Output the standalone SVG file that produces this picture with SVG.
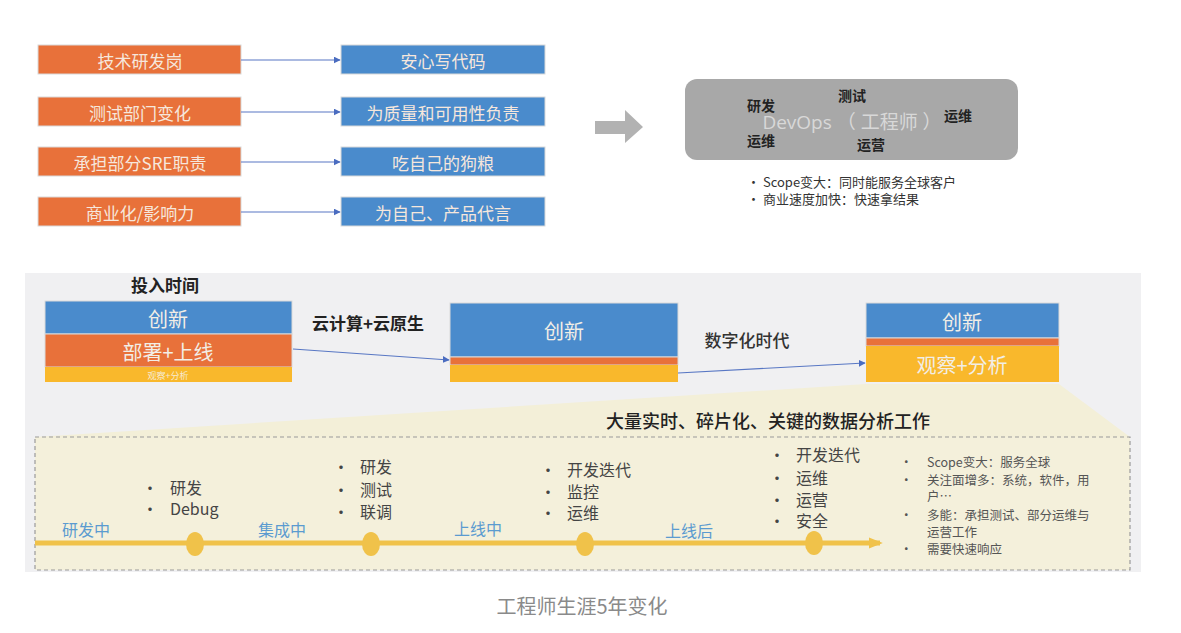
<svg xmlns="http://www.w3.org/2000/svg" width="1181" height="633" viewBox="0 0 1181 633">
<defs>
<style>
text{font-family:"Noto Sans CJK SC","Noto Sans",sans-serif;}
.org{fill:#e8713a;stroke:#d9d9d9;stroke-width:1}
.blu{fill:#4a8bcc;stroke:#d9d9d9;stroke-width:1}
.yel{fill:#f9b82c}
.bt{fill:#f6e7dc;font-size:17px;text-anchor:middle;dominant-baseline:central}
.bt2{fill:#f2eee6;font-size:20px;text-anchor:middle;dominant-baseline:central}
.lbl{fill:#222;font-size:14px;font-weight:bold}
.sm{fill:#333;font-size:13px}
.mid{fill:#222;font-size:17px;font-weight:bold}
.tl{fill:#444;font-size:16px}
.tls{fill:#555;font-size:12.5px}
.ph{fill:#5b9bd0;font-size:16px}
.dot{fill:#f0c24a}
.conn{stroke:#5877c4;stroke-width:1.2;fill:none;marker-end:url(#ah)}
</style>
<marker id="ah" viewBox="0 0 10 10" refX="9" refY="5" markerWidth="7" markerHeight="7" orient="auto" markerUnits="userSpaceOnUse">
<path d="M0,0 L10,5 L0,10 z" fill="#4a6cc0"/>
</marker>
<marker id="ya" viewBox="0 0 10 10" refX="8" refY="5" markerWidth="14" markerHeight="14" orient="auto" markerUnits="userSpaceOnUse">
<path d="M0,1 L10,5 L0,9 z" fill="#f0c24a"/>
</marker>
</defs>
<rect x="0" y="0" width="1181" height="633" fill="#ffffff"/>
<rect x="25" y="273" width="1116" height="299" fill="#f0f0f2"/>

<!-- cream trapezoid and dashed area -->
<path d="M35,437 L866,384 L1059,384 L1130,437 L1130,570 L35,570 Z" fill="#f3efd8"/>
<rect x="35" y="437" width="1095" height="133" fill="#f4f0db" stroke="#9a9a9a" stroke-width="1.2" stroke-dasharray="4,3"/>

<!-- top-left rows -->
<g id="r1l"><rect class="org" x="38" y="45" width="203" height="29"/><text class="bt" x="140" y="60">技术研发岗</text></g>
<g id="r1r"><rect class="blu" x="341" y="45" width="204" height="29"/><text class="bt" x="443" y="60">安心写代码</text></g>
<g id="r2l"><rect class="org" x="38" y="97" width="203" height="29"/><text class="bt" x="140" y="112">测试部门变化</text></g>
<g id="r2r"><rect class="blu" x="341" y="97" width="204" height="29"/><text class="bt" x="443" y="112">为质量和可用性负责</text></g>
<g id="r3l"><rect class="org" x="38" y="147" width="203" height="29"/><text class="bt" x="140" y="162">承担部分SRE职责</text></g>
<g id="r3r"><rect class="blu" x="341" y="147" width="204" height="29"/><text class="bt" x="443" y="162">吃自己的狗粮</text></g>
<g id="r4l"><rect class="org" x="38" y="197" width="203" height="29"/><text class="bt" x="140" y="212">商业化/影响力</text></g>
<g id="r4r"><rect class="blu" x="341" y="197" width="204" height="29"/><text class="bt" x="443" y="212">为自己、产品代言</text></g>

<!-- big gray arrow -->
<g id="bigarrow"><path d="M595,121 L625,121 L625,110 L643,127 L625,143 L625,134 L595,134 Z" fill="#b2b2b2"/></g>

<!-- DevOps box -->
<g id="devops">
<rect x="685" y="79" width="333" height="81" rx="12" fill="#a8a8a8"/>
<text x="852" y="122" fill="#d8d8d8" font-size="19" text-anchor="middle" dominant-baseline="central" style="font-family:'Open Sans','Noto Sans CJK SC',sans-serif">DevOps （ 工程师 ）</text>
<text class="lbl" x="747" y="111">研发</text>
<text class="lbl" x="838" y="101">测试</text>
<text class="lbl" x="944" y="121">运维</text>
<text class="lbl" x="747" y="146">运维</text>
<text class="lbl" x="857" y="150">运营</text>
</g>
<g id="devops-notes">
<text class="sm" x="747" y="187">•  Scope变大：同时能服务全球客户</text>
<text class="sm" x="747" y="204">•  商业速度加快：快速拿结果</text>
</g>

<!-- middle stacks -->
<text class="mid" x="165" y="292" text-anchor="middle">投入时间</text>
<g id="stack1">
<rect class="blu" x="45" y="301" width="247" height="33" stroke="none"/>
<rect class="org" x="45" y="334" width="247" height="33" stroke="none"/>
<rect class="yel" x="45" y="367" width="247" height="15"/>
<text class="bt2" x="168" y="318">创新</text>
<text class="bt2" x="168" y="351" font-size="21">部署+上线</text>
<text x="168" y="375" fill="#f6ead0" font-size="9" text-anchor="middle" dominant-baseline="central">观察+分析</text>
</g>
<text class="mid" x="368" y="330" text-anchor="middle" style="font-weight:600">云计算+云原生</text>
<g id="stack2">
<rect class="blu" x="450" y="303" width="228" height="54" stroke="none"/>
<rect class="org" x="450" y="357" width="228" height="8" stroke="none"/>
<rect class="yel" x="450" y="365" width="228" height="17"/>
<text class="bt2" x="564" y="330">创新</text>
</g>
<text x="747" y="347" text-anchor="middle" fill="#333" font-size="17" style="font-weight:500">数字化时代</text>
<g id="stack3">
<rect class="blu" x="866" y="303" width="193" height="35" stroke="none"/>
<rect class="org" x="866" y="338" width="193" height="8" stroke="none"/>
<rect class="yel" x="866" y="346" width="193" height="36"/>
<text class="bt2" x="962" y="321">创新</text>
<text class="bt2" x="962" y="364">观察+分析</text>
</g>

<g id="connectors">
<line class="conn" x1="241" y1="60" x2="340" y2="60"/>
<line class="conn" x1="241" y1="112" x2="340" y2="112"/>
<line class="conn" x1="241" y1="162" x2="340" y2="162"/>
<line class="conn" x1="241" y1="212" x2="340" y2="212"/>
<line class="conn" x1="293" y1="349" x2="449" y2="360"/>
<line class="conn" x1="678" y1="373" x2="865" y2="363"/>
</g>

<!-- bottom timeline -->
<text x="768" y="428" fill="#222" font-size="18" text-anchor="middle" style="font-weight:500">大量实时、碎片化、关键的数据分析工作</text>
<g id="timeline">
<line x1="35" y1="543" x2="880" y2="543" stroke="#f0c24a" stroke-width="5" marker-end="url(#ya)"/>
<ellipse class="dot" cx="195" cy="544" rx="9" ry="12"/>
<ellipse class="dot" cx="371" cy="544" rx="9" ry="12"/>
<ellipse class="dot" cx="585" cy="544" rx="9" ry="12"/>
<ellipse class="dot" cx="814" cy="543" rx="9" ry="12"/>
</g>
<g id="phases">
<text class="ph" x="62" y="536">研发中</text>
<text class="ph" x="258" y="536">集成中</text>
<text class="ph" x="454" y="535">上线中</text>
<text class="ph" x="665" y="537">上线后</text>
</g>
<g id="stage1">
<text class="tl" x="142" y="494">•</text><text class="tl" x="170" y="494">研发</text>
<text class="tl" x="142" y="515">•</text><text class="tl" x="170" y="515">Debug</text>
</g>
<g id="stage2">
<text class="tl" x="333" y="473">•</text><text class="tl" x="360" y="473">研发</text>
<text class="tl" x="333" y="496">•</text><text class="tl" x="360" y="496">测试</text>
<text class="tl" x="333" y="518">•</text><text class="tl" x="360" y="518">联调</text>
</g>
<g id="stage3">
<text class="tl" x="540" y="476">•</text><text class="tl" x="567" y="476">开发迭代</text>
<text class="tl" x="540" y="498">•</text><text class="tl" x="567" y="498">监控</text>
<text class="tl" x="540" y="519">•</text><text class="tl" x="567" y="519">运维</text>
</g>
<g id="stage4">
<text class="tl" x="769" y="461">•</text><text class="tl" x="796" y="461">开发迭代</text>
<text class="tl" x="769" y="484">•</text><text class="tl" x="796" y="484">运维</text>
<text class="tl" x="769" y="506">•</text><text class="tl" x="796" y="506">运营</text>
<text class="tl" x="769" y="527">•</text><text class="tl" x="796" y="527">安全</text>
</g>
<g id="stage5">
<text class="tls" x="900" y="467">•</text><text class="tls" x="927" y="467">Scope变大：服务全球</text>
<text class="tls" x="900" y="485">•</text><text class="tls" x="927" y="485">关注面增多：系统，软件，用</text>
<text class="tls" x="927" y="501">户…</text>
<text class="tls" x="900" y="520">•</text><text class="tls" x="927" y="520">多能：承担测试、部分运维与</text>
<text class="tls" x="927" y="537">运营工作</text>
<text class="tls" x="900" y="554">•</text><text class="tls" x="927" y="554">需要快速响应</text>
</g>

<text x="582" y="614" fill="#8a8a8a" font-size="20" text-anchor="middle">工程师生涯5年变化</text>
</svg>
